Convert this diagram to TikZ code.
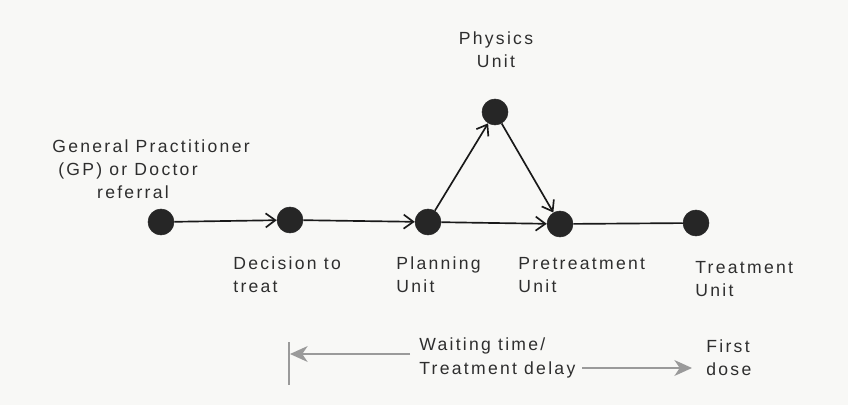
\documentclass[tikz,border=0pt]{standalone}
\usepackage{fontspec}
\setmainfont{Liberation Sans}[LetterSpace=13]
\usetikzlibrary{arrows.meta}
\definecolor{paper}{HTML}{F8F8F6}
\definecolor{ink}{HTML}{262626}
\definecolor{txt}{HTML}{2E2E2E}
\definecolor{guide}{HTML}{9A9A9A}
\begin{document}
\begin{tikzpicture}[x=0.02cm,y=-0.02cm,
  stage/.style={circle,fill=ink,draw=ink,line width=0.3pt,minimum size=0.52cm,inner sep=0pt},
  lbl/.style={inner sep=0pt,text=txt,font=\fontsize{10}{13.2}\selectfont,align=left,anchor=west},
  flow/.style={draw=black!90,line width=0.95pt,-{Straight Barb[length=5.5pt,width=8pt,line width=0.95pt]}},
  plain/.style={draw=black!90,line width=0.95pt},
  span/.style={draw=guide,line width=1pt,-{Stealth[length=10pt,width=9pt,inset=3pt]}}]
  \useasboundingbox[fill=paper] (0,0) rectangle (848,405);

  % stations of the patient pathway
  \node[stage] (gp)   at (161,222) {};
  \node[stage] (dec)  at (290,220) {};
  \node[stage] (plan) at (428,222) {};
  \node[stage] (phys) at (495,112) {};
  \node[stage] (pre)  at (560,224) {};
  \node[stage] (trt)  at (696,223) {};

  % connections
  \draw[flow]  (gp)   -- (dec);
  \draw[flow]  (dec)  -- (plan);
  \draw[flow]  (plan) -- (phys);
  \draw[flow]  (phys) -- (pre);
  \draw[flow]  (plan) -- (pre);
  \draw[plain] (pre)  -- (trt);

  % labels
  \node[lbl] (lgp) at (52,169) {General Practitioner\\\hspace*{3.4pt}(GP) or Doctor\\\hspace*{25.5pt}referral};
  \node[lbl,anchor=center,align=center] (lphys) at (496,50) {Physics\\Unit};
  \node[lbl] (ldec)  at (233,275) {Decision to\\treat};
  \node[lbl] (lplan) at (396,275) {Planning\\Unit};
  \node[lbl] (lpre)  at (518,275) {Pretreatment\\Unit};
  \node[lbl] (ltrt)  at (695,279) {Treatment\\Unit};
  \node[lbl] (lwait) at (419,358) {Waiting time/\\Treatment delay};
  \node[lbl] (ldose) at (706,358) {First\\dose};

  % waiting-time span
  \coordinate (bartop) at (289,342);
  \coordinate (barbot) at (289,385);
  \coordinate (lstart) at (410,354);
  \coordinate (lend)   at (290,354);
  \coordinate (rstart) at (582,368);
  \coordinate (rend)   at (692,368);
  \draw[draw=guide,line width=1.1pt] (bartop) -- (barbot);
  \draw[span] (lstart) -- (lend);
  \draw[span] (rstart) -- (rend);
\end{tikzpicture}
\end{document}
